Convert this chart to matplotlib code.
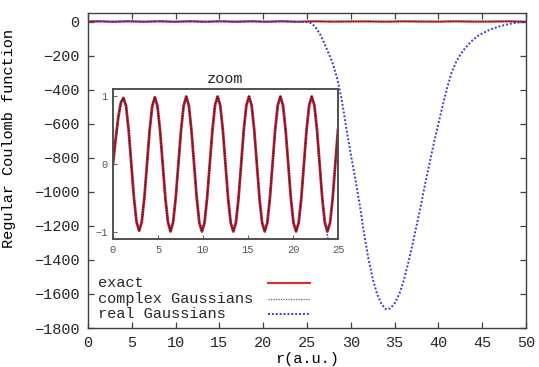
import numpy as np
import matplotlib
matplotlib.use('Agg')
import matplotlib.pyplot as plt

plt.rcParams['font.family'] = ['Liberation Mono', 'DejaVu Sans Mono']
plt.rcParams['text.color'] = '#262626'
plt.rcParams['xtick.labelcolor'] = '#262626'
plt.rcParams['ytick.labelcolor'] = '#262626'

# r grid for the oscillating part (12 samples per period, first peak at r=1.15)
r_osc = np.arange(87) * 0.2906
exact_osc = [
    0.00, 0.36, 0.68, 0.90,
    0.97, 0.85, 0.49, 0.00, -0.49, -0.85, -0.98, -0.85, -0.49, 0.00, 0.49, 0.85,
    0.98, 0.85, 0.49, 0.00, -0.49, -0.85, -0.99, -0.85, -0.49, 0.00, 0.49, 0.85,
    0.99, 0.86, 0.49, 0.00, -0.49, -0.86, -0.99, -0.86, -0.49, 0.00, 0.49, 0.86,
    0.99, 0.86, 0.50, 0.00, -0.50, -0.86, -0.99, -0.86, -0.50, 0.00, 0.50, 0.86,
    0.99, 0.86, 0.50, 0.00, -0.50, -0.86, -0.99, -0.86, -0.50, 0.00, 0.50, 0.86,
    0.99, 0.86, 0.50, 0.00, -0.50, -0.86, -0.99, -0.86, -0.50, 0.00, 0.50, 0.86,
    0.99, 0.86, 0.50, 0.00, -0.50, -0.86, -0.99, -0.86, -0.50, 0.00, 0.50,
]
# beyond the zoom range the exact function stays at ~0 on the big scale
r_far = [26, 28, 30, 32, 34, 36, 38, 40, 42, 44, 46, 48, 50]
exact_far = [0.9, -0.6, 0.2, 0.4, -0.9, 0.8, -0.1, -0.6, 0.9, -0.5, -0.3, 0.9, -0.7]

# real Gaussians: follow the exact curve up to r~23.5, then blow up
n_follow = 82
r_real_tail = [23.83, 24.12, 24.41, 24.7, 25.0, 25.5, 26.0, 26.5, 27.0, 27.5, 28.0, 28.5,
               29.0, 29.5, 30.0, 30.5, 31.0, 31.5, 32.0, 32.5, 33.0, 33.5, 34.0, 34.5,
               35.0, 35.5, 36.0, 36.5, 37.0, 37.5, 38.0, 38.5, 39.0, 39.5, 40.0, 40.5,
               41.0, 41.5, 42.0, 42.5, 43.0, 43.5, 44.0, 44.5, 45.0, 46.0, 47.0, 48.0,
               49.0, 50.0]
real_tail = [-1.05, -1.3, -1.9, -2.9, -4.5, -10, -35, -75, -130, -190, -255, -345,
             -470, -630, -780, -920, -1070, -1240, -1390, -1510, -1600, -1660, -1690, -1685,
             -1655, -1605, -1530, -1430, -1320, -1200, -1080, -950, -830, -710, -600, -490,
             -390, -300, -240, -195, -160, -130, -105, -85, -70, -45, -28, -15,
             -7, -2]

r_exact = np.concatenate([r_osc, r_far])
f_exact = np.array(exact_osc + exact_far)
f_complex = f_exact.copy()
r_real = np.concatenate([r_osc[:n_follow], r_real_tail])
f_real = np.array(exact_osc[:n_follow] + real_tail)

red = '#e8282b'
blue = '#3b3bd8'
spine_c = '#404040'

fig = plt.figure(figsize=(5.39, 3.67), dpi=100)
ax = fig.add_axes([88/539, 39/367, 438/539, 315/367])

ax.plot(r_exact, f_exact, color=red, lw=1.5)
ax.plot(r_exact, f_complex, color='#222222', lw=0.9, ls=(0, (1, 1)))
ax.plot(r_real, f_real, color=blue, lw=1.4, ls=(0, (1, 1)))

ax.set_xlim(0, 50)
ax.set_ylim(-1800, 50)
ax.set_xticks(np.arange(0, 51, 5))
ax.set_yticks(np.arange(-1800, 1, 200))
ax.tick_params(direction='in', length=4, width=0.9, color=spine_c, top=True, right=True,
               labelsize=11, pad=6)
for s in ax.spines.values():
    s.set_color(spine_c)
    s.set_linewidth(1.0)
ax.set_xlabel('r(a.u.)', fontsize=11, labelpad=1)
ax.set_ylabel('Regular Coulomb function', fontsize=11)
ax.yaxis.set_label_coords(-0.165, 0.6)

# key, gnuplot style: text left, sample right
key = [('exact', red, '-', 1.5, 0.1419, 0.1286),
       ('complex Gaussians', '#666666', (0, (1, 1)), 0.9, 0.0911, 0.0778),
       ('real Gaussians', blue, (0, (1, 1)), 1.4, 0.0435, 0.0302)]
for label, c, ls, lw, yl, yt in key:
    ax.text(0.023, yt, label, transform=ax.transAxes, fontsize=11, va='baseline', ha='left')
    ax.plot([0.411, 0.507], [yl, yl], transform=ax.transAxes, color=c, ls=ls, lw=lw)

# inset
axi = fig.add_axes([113/539, 128/367, 225/539, 150/367])
axi.set_facecolor('white')
axi.plot(r_real, f_real, color=blue, lw=1.2, ls=(0, (1, 1)))
axi.plot(r_osc, exact_osc, color='#c0283a', lw=2.0)
axi.plot(r_osc, exact_osc, color='#301018', lw=0.9, ls=(0, (1, 1)))
axi.set_xlim(0, 25)
axi.set_ylim(-1.1, 1.1)
axi.set_xticks(np.arange(0, 26, 5))
axi.set_yticks([-1, 0, 1])
axi.tick_params(direction='in', length=3, width=0.8, color='#666666', labelcolor='#555555',
                labelsize=7.5, pad=4)
for s in axi.spines.values():
    s.set_color('#505050')
    s.set_linewidth(1.4)
axi.set_title('zoom', fontsize=11, pad=4)

fig.savefig('out.png', dpi=100)
